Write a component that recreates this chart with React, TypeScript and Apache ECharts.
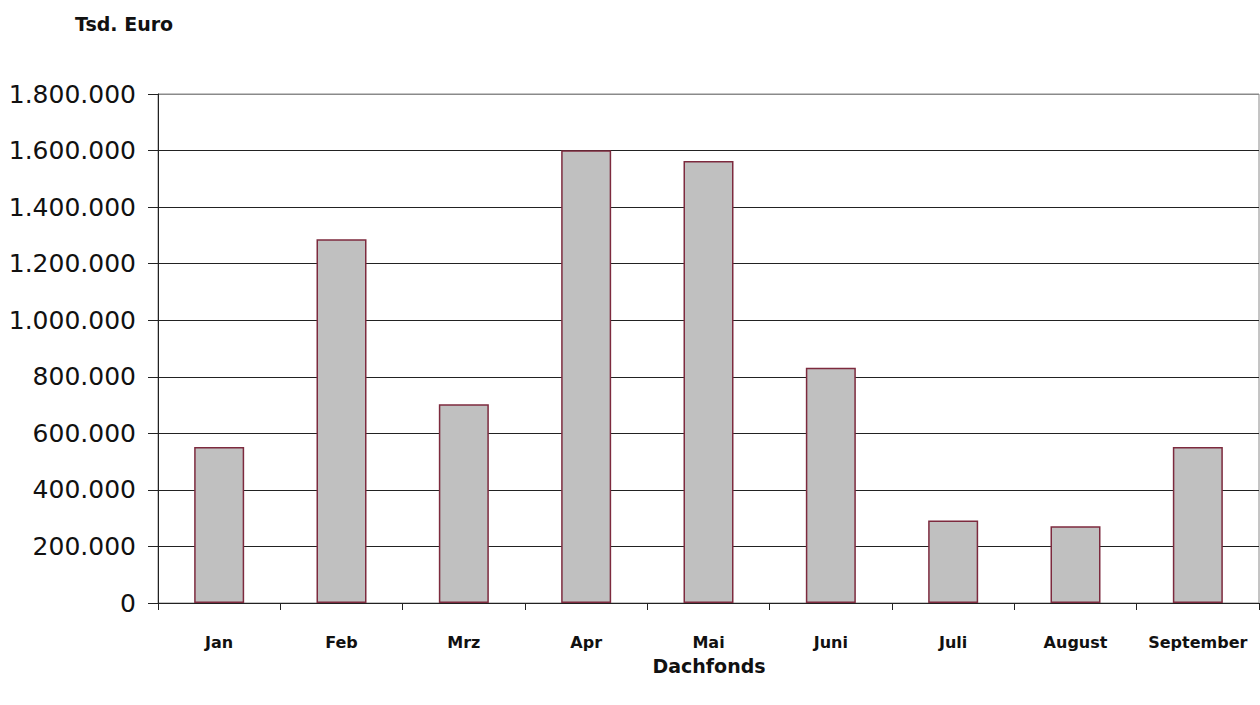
import React, { useEffect, useRef } from "react";
import * as echarts from "echarts";

const categories = ["Jan", "Feb", "Mrz", "Apr", "Mai", "Juni", "Juli", "August", "September"];
const values = [552000, 1286000, 703000, 1601000, 1563000, 832000, 292000, 271000, 552000];
const yTicks = [0, 200000, 400000, 600000, 800000, 1000000, 1200000, 1400000, 1600000, 1800000];
const unitLabel = "Tsd. Euro";
const seriesName = "Dachfonds";

function fmt(v: number): string {
  return String(Math.round(v)).replace(/\B(?=(\d{3})+(?!\d))/g, ".");
}

export default function App() {
  const ref = useRef<HTMLDivElement>(null);
  useEffect(() => {
    if (!ref.current) return;
    const chart = echarts.init(ref.current, undefined, { renderer: "svg" });
    const splitColors = yTicks.map((_, i) => (i === yTicks.length - 1 ? "#8a8a8a" : "#222"));
    chart.setOption({
      animation: false,
      backgroundColor: "#ffffff",
      grid: {
        left: 158,
        right: 1,
        top: 94,
        bottom: 102,
        show: true,
        borderColor: "#8a8a8a",
        borderWidth: 1,
        backgroundColor: "transparent",
      },
      graphic: [
        {
          type: "text",
          left: 75,
          top: 14,
          style: {
            text: unitLabel,
            font: "bold 19px 'DejaVu Sans'",
            fill: "#111",
          },
        },
        {
          type: "text",
          x: 709,
          y: 666,
          style: {
            text: seriesName,
            font: "bold 19px 'DejaVu Sans'",
            fill: "#111",
            align: "center",
            verticalAlign: "middle",
          },
        },
      ],
      xAxis: {
        type: "category",
        data: categories,
        boundaryGap: true,
        axisLine: { show: true, lineStyle: { color: "#222", width: 1 } },
        axisTick: { show: true, interval: 0, length: 7, lineStyle: { color: "#222" } },
        axisLabel: {
          interval: 0,
          hideOverlap: false,
          margin: 31,
          color: "#111",
          fontFamily: "DejaVu Sans",
          fontWeight: "bold",
          fontSize: 16,
        },
      },
      yAxis: {
        type: "value",
        min: yTicks[0],
        max: yTicks[yTicks.length - 1],
        interval: yTicks[1] - yTicks[0],
        axisLine: { show: true, lineStyle: { color: "#222", width: 1 } },
        axisTick: { show: true, length: 10, lineStyle: { color: "#222" } },
        splitLine: { show: true, lineStyle: { color: splitColors, width: 1 } },
        axisLabel: {
          margin: 22,
          color: "#111",
          fontFamily: "DejaVu Sans",
          fontSize: 25,
          formatter: (v: number) => fmt(v),
        },
      },
      series: [
        {
          name: seriesName,
          type: "bar",
          data: values,
          barWidth: 50,
          itemStyle: {
            color: "#c0c0c0",
            borderColor: "#7d2a3e",
            borderWidth: 1.5,
          },
        },
      ],
    });
    return () => chart.dispose();
  }, []);
  return (
    <div
      ref={ref}
      style={{ position: "absolute", left: 0, top: 0, width: 1260, height: 705 }}
    />
  );
}
